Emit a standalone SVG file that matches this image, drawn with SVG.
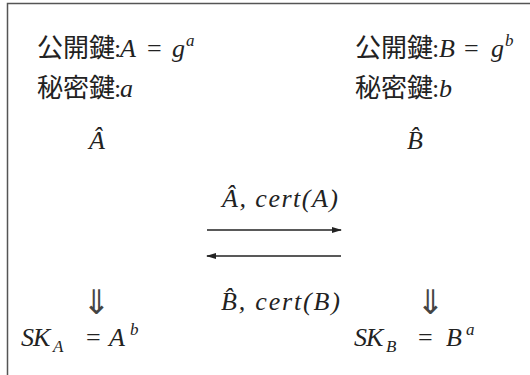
<svg xmlns="http://www.w3.org/2000/svg" width="530" height="375" viewBox="0 0 530 375">
<defs>
<style>
.cjk{font-family:'Noto Sans CJK JP','Noto Sans CJK SC',sans-serif;font-size:26px;font-weight:400;fill:#222}
.m{font-family:'Liberation Serif','Times New Roman',serif;font-style:italic;font-size:26px;fill:#222}
.r{font-family:'Liberation Serif','Times New Roman',serif;font-style:normal;font-size:26px;fill:#222}
.s{font-size:17px}
.ar{font-family:'DejaVu Sans',sans-serif;font-size:34px;fill:#444}
.ln{stroke:#222;stroke-width:1.3;fill:none}
</style>
<marker id="ah" markerWidth="10" markerHeight="6" refX="9" refY="3" orient="auto" markerUnits="userSpaceOnUse">
<path d="M0,0 L10,3 L0,6 Z" fill="#222"/>
</marker>
</defs>
<rect x="0" y="0" width="530" height="375" fill="#fff"/>
<path d="M7.5,375 V3.5 H530" stroke="#555" stroke-width="1.5" fill="none"/>
<g id="alice">
<text y="57"><tspan class="cjk" x="37">公開鍵</tspan><tspan class="r" x="114">:</tspan><tspan class="m" x="120">A</tspan><tspan class="r" x="147">=</tspan><tspan class="m" x="172">g</tspan><tspan class="m s" x="186" dy="-11">a</tspan></text>
<text y="97"><tspan class="cjk" x="37">秘密鍵</tspan><tspan class="r" x="114">:</tspan><tspan class="m" x="120">a</tspan></text>
<text class="m" x="89" y="149">Â</text>
<text class="ar" x="82" y="314">⇓</text>
<text y="346"><tspan class="m" x="21">S</tspan><tspan class="m" x="33">K</tspan><tspan class="m s" x="53" dy="6">A</tspan><tspan class="r" x="86" dy="-6">=</tspan><tspan class="m" x="109">A</tspan><tspan class="m s" x="130" dy="-11">b</tspan></text>
</g>
<g id="bob">
<text y="57"><tspan class="cjk" x="355">公開鍵</tspan><tspan class="r" x="432">:</tspan><tspan class="m" x="439">B</tspan><tspan class="r" x="464">=</tspan><tspan class="m" x="491">g</tspan><tspan class="m s" x="505" dy="-11">b</tspan></text>
<text y="97"><tspan class="cjk" x="355">秘密鍵</tspan><tspan class="r" x="432">:</tspan><tspan class="m" x="439">b</tspan></text>
<text class="m" x="407" y="149">B̂</text>
<text class="ar" x="416" y="314">⇓</text>
<text y="346"><tspan class="m" x="354">S</tspan><tspan class="m" x="366">K</tspan><tspan class="m s" x="386" dy="6">B</tspan><tspan class="r" x="418" dy="-6">=</tspan><tspan class="m" x="446">B</tspan><tspan class="m s" x="466" dy="-11">a</tspan></text>
</g>
<g id="connectors">
<line class="ln" x1="207" y1="230" x2="341" y2="230" marker-end="url(#ah)"/>
<line class="ln" x1="341" y1="256" x2="207" y2="256" marker-end="url(#ah)"/>
<text class="m" x="222" y="207" textLength="116" lengthAdjust="spacing">Â, cert(A)</text>
<text class="m" x="221" y="310" textLength="119" lengthAdjust="spacing">B̂, cert(B)</text>
</g>
</svg>
